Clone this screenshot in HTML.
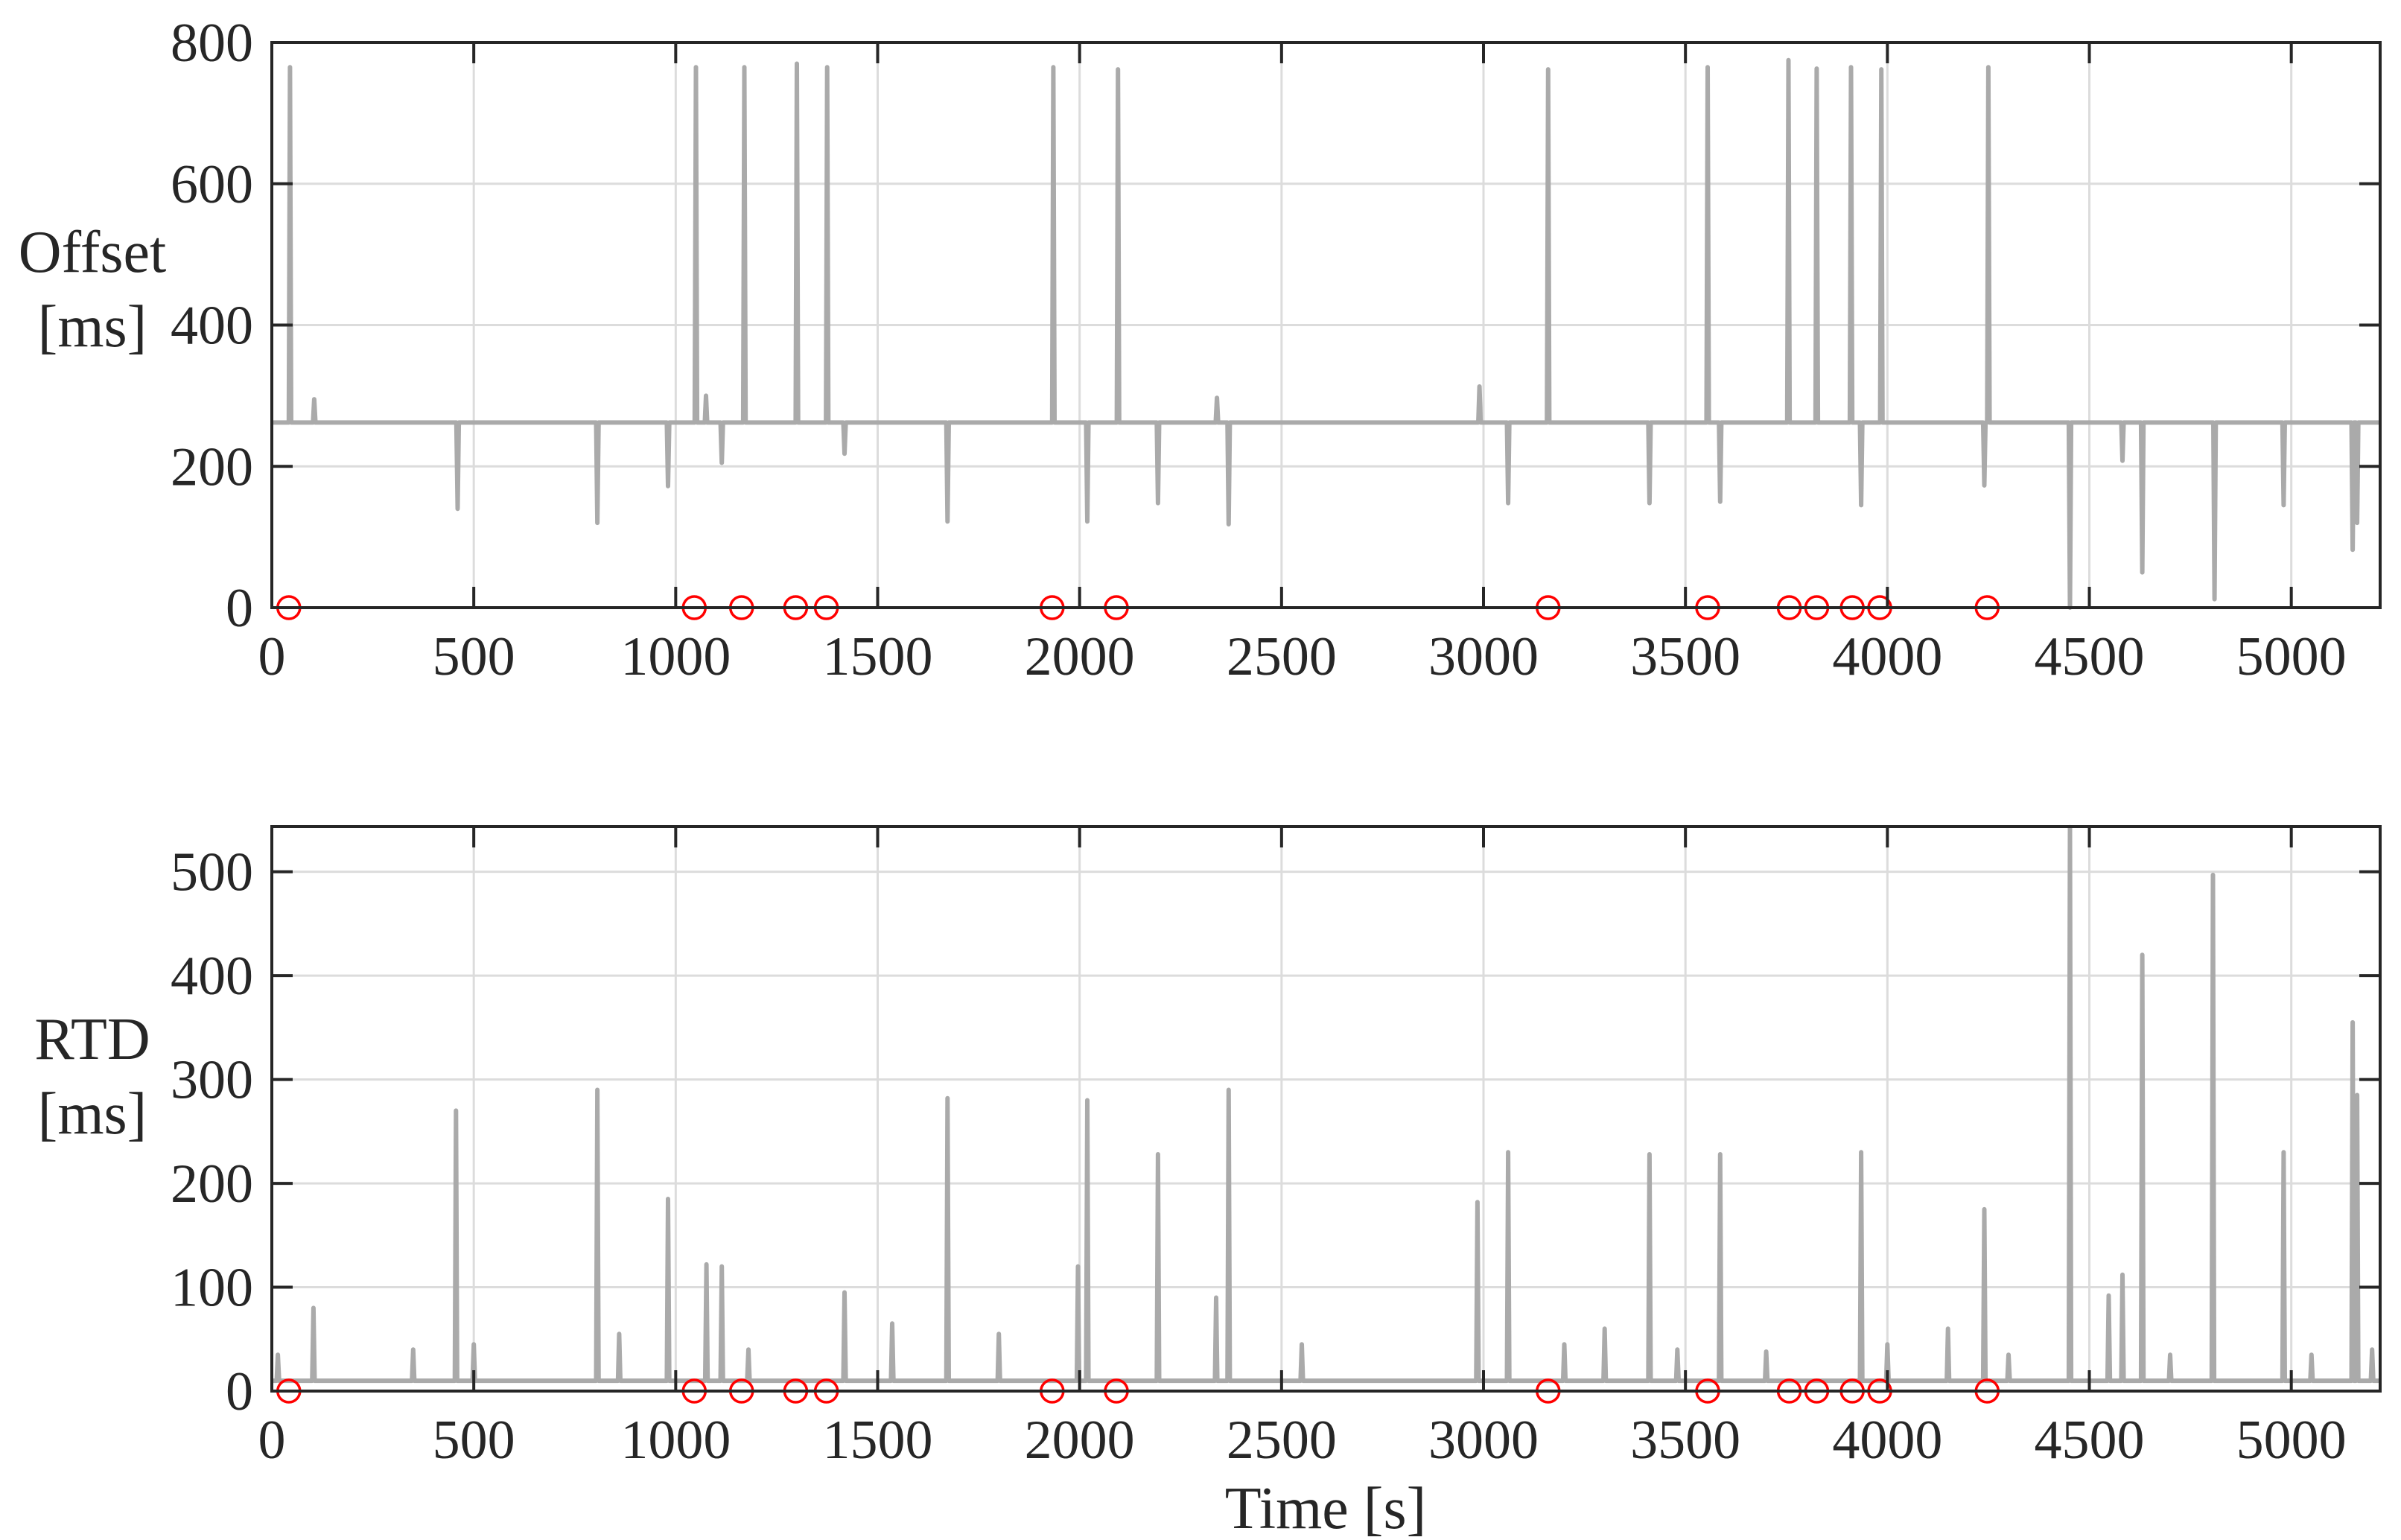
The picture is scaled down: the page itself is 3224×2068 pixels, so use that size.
<!DOCTYPE html>
<html><head><meta charset="utf-8"><style>
html,body{margin:0;padding:0;background:#fff;}
svg{display:block;}
text{font-family:"Liberation Serif","DejaVu Serif",serif;}
</style></head><body>
<svg id="chart" width="3224" height="2068" viewBox="0 0 3224 2068" xmlns="http://www.w3.org/2000/svg" font-family="Liberation Serif, serif"></svg>
<script>
// ---------- data ----------
const xTicks = [0,500,1000,1500,2000,2500,3000,3500,4000,4500,5000];
const offTicks = [0,200,400,600,800];
const rtdTicks = [0,100,200,300,400,500];
const offsetBase = 262;
const offsetSpikeT = [45,105,460,806,981,1050,1075,1114,1170,1300,1375,1418,1673,1935,2019,2095,2194,2340,2369,2990,3061,3160,3411,3555,3586,3755,3825,3910,3935,3985,4240,4250,4452,4582,4631,4810,4981,5152,5163];
const offsetSpikeV = [765,295,140,120,172,765,300,205,765,770,765,218,122,765,122,762,148,297,118,313,148,762,148,765,150,775,763,765,145,762,173,765,0,208,50,12,145,82,120];
const rtdBase = 10;
const rtdSpikeT = [15,103,350,456,500,806,860,981,1076,1114,1180,1418,1536,1673,1800,1996,2019,2194,2338,2369,2550,2985,3061,3200,3300,3411,3480,3586,3700,3935,4000,4150,4240,4300,4452,4548,4582,4631,4700,4806,4981,5050,5152,5163,5200];
const rtdSpikeV = [35,80,40,270,45,290,55,185,122,120,40,95,65,282,55,120,280,228,90,290,45,182,230,45,60,228,40,228,38,230,45,60,175,35,543,92,112,420,35,497,230,35,355,285,40];
const markerT = [42,1046,1163,1297,1373,1932,2091,3160,3555,3757,3825,3913,3981,4247];

// ---------- layout ----------
const svg = document.getElementById('chart');
const NS = 'http://www.w3.org/2000/svg';
const L = 365, R = 3196, XMAX = 5220;
const P1 = {top:57, bot:816, max:800};
const P2 = {top:1110, bot:1868, max:543.5};
const xs = t => L + t/XMAX*(R-L);
const ys = (p,v) => p.bot - v/p.max*(p.bot-p.top);
const FONT = 'Liberation Serif, serif';
function mk(tag, attrs, parent){const e=document.createElementNS(NS,tag);for(const k in attrs)e.setAttribute(k,attrs[k]);if(tag==='text')e.setAttribute('font-family',FONT);(parent||svg).appendChild(e);return e;}

function series(T,V,base){
  const ev = T.map((t,i)=>[t,V[i]]).sort((a,b)=>a[0]-b[0]);
  const pts=[[0,base]];
  ev.forEach(([t,v])=>{pts.push([t-3,base]);pts.push([t,v]);pts.push([t+3,base]);});
  pts.push([XMAX,base]);
  return pts;
}

function panel(p, yt, T, V, base, name, lab1, lab2, labY1, labY2){
  const g = mk('g',{});
  
  
  xTicks.forEach(t=>{const l=mk('line',{x1:xs(t),x2:xs(t),y1:p.top,y2:p.bot,stroke:'#dcdcdc','stroke-width':3},g);
    });
  yt.forEach(v=>{const l=mk('line',{x1:L,x2:R,y1:ys(p,v),y2:ys(p,v),stroke:'#dcdcdc','stroke-width':3},g);
    });
  const pts = series(T,V,base);
  const pl = mk('polyline',{points:pts.map(q=>xs(q[0]).toFixed(1)+','+ys(p,q[1]).toFixed(1)).join(' '),fill:'none',stroke:'#aaaaaa','stroke-width':6,'stroke-linejoin':'round'},g);
  
  
  markerT.forEach(t=>{const c=mk('circle',{cx:xs(t),cy:p.bot,r:15,fill:'none',stroke:'#ff0000','stroke-width':3.5},g);
    });
  const box = mk('rect',{x:L,y:p.top,width:R-L,height:p.bot-p.top,fill:'none',stroke:'#262626','stroke-width':4},g);
  
  
  xTicks.forEach(t=>{
    mk('line',{x1:xs(t),x2:xs(t),y1:p.bot,y2:p.bot-28,stroke:'#262626','stroke-width':4},g);
    mk('line',{x1:xs(t),x2:xs(t),y1:p.top,y2:p.top+28,stroke:'#262626','stroke-width':4},g);
    const tx=mk('text',{x:xs(t),y:p.bot+90,'font-size':74,'text-anchor':'middle',fill:'#262626'},g);
    tx.textContent=t;
    
  });
  yt.forEach(v=>{
    mk('line',{x1:L,x2:L+28,y1:ys(p,v),y2:ys(p,v),stroke:'#262626','stroke-width':4},g);
    mk('line',{x1:R,x2:R-28,y1:ys(p,v),y2:ys(p,v),stroke:'#262626','stroke-width':4},g);
    const tx=mk('text',{x:340,y:ys(p,v)+25,'font-size':74,'text-anchor':'end',fill:'#262626'},g);
    tx.textContent=v;
    
  });
  const a=mk('text',{x:124,y:labY1,'font-size':80,'text-anchor':'middle',fill:'#262626'},g);a.textContent=lab1;
  
  const b=mk('text',{x:124,y:labY2,'font-size':80,'text-anchor':'middle',fill:'#262626'},g);b.textContent=lab2;
  
}
panel(P1, offTicks, offsetSpikeT, offsetSpikeV, offsetBase, 'offset', 'Offset', '[ms]', 365, 465);
panel(P2, rtdTicks, rtdSpikeT, rtdSpikeV, rtdBase, 'rtd', 'RTD', '[ms]', 1422, 1522);
const xl=mk('text',{x:1780,y:2052,'font-size':80,'text-anchor':'middle',fill:'#262626'});
xl.textContent='Time [s]';


</script>
</body></html>
